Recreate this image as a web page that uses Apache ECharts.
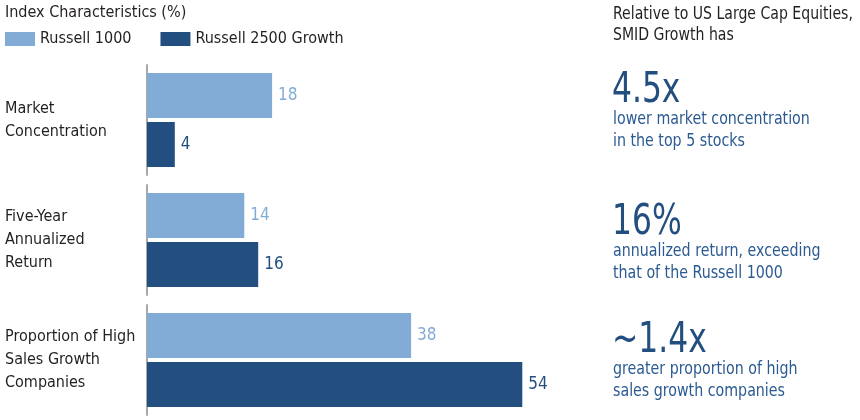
<!DOCTYPE html>
<html><head><meta charset="utf-8">
<script src="https://cdn.jsdelivr.net/npm/echarts@6/dist/echarts.min.js"></script>
<style>html,body{margin:0;padding:0;background:#fff}#c{width:860px;height:420px}</style>
</head><body><div id="c"></div>
<script>
const categories = ['Market\nConcentration', 'Five-Year\nAnnualized\nReturn', 'Proportion of High\nSales Growth\nCompanies'];
const seriesNames = ['Russell 1000', 'Russell 2500 Growth'];
const russell1000 = [18, 14, 38];
const russell2500Growth = [4, 16, 54];
const statValues = ['4.5x', '16%', '~1.4x'];
const statNotes = ['lower market concentration\nin the top 5 stocks', 'annualized return, exceeding\nthat of the Russell 1000', 'greater proportion of high\nsales growth companies'];
const chartTitle = 'Index Characteristics (%)';
const sideTitle = 'Relative to US Large Cap Equities,\nSMID Growth has';

const FONT = "'DejaVu Sans Condensed', 'Liberation Sans Narrow', 'Roboto', sans-serif";
const LIGHT = '#82ACD6';
const DARK = '#234F80';
const chart = echarts.init(document.getElementById('c'));

const grids = [], xAxes = [], yAxes = [], series = [];
categories.forEach((cat, i) => {
  grids.push({left: 147, width: 417, top: 65 + i * 120, height: 110});
  xAxes.push({type: 'value', gridIndex: i, min: 0, max: 60, show: false});
  yAxes.push({type: 'category', gridIndex: i, data: [cat], inverse: true,
    axisLine: {show: true, lineStyle: {color: '#A8A8A8', width: 2}},
    axisTick: {show: false},
    axisLabel: {align: 'left', margin: 142, fontFamily: FONT, fontSize: 16, lineHeight: 23, color: '#231F20'}});
  [[seriesNames[0], russell1000[i], LIGHT], [seriesNames[1], russell2500Growth[i], DARK]].forEach(([name, v, col]) => {
    series.push({type: 'bar', name, xAxisIndex: i, yAxisIndex: i, data: [v],
      barWidth: 45, barGap: '9%', itemStyle: {color: col},
      label: {show: true, position: 'right', distance: 6, color: col, fontFamily: FONT, fontSize: 17},
      silent: true, animation: false});
  });
});

const graphics = [{type: 'text', x: 613, y: 4, scaleX: 0.92, style: {x: 0, y: 0, text: sideTitle, font: '17px ' + FONT, fill: '#231F20', lineHeight: 21}}];
const statTops = [70, 202, 320];
statValues.forEach((s, i) => {
  graphics.push({type: 'text', x: 612, y: statTops[i], scaleX: 0.83, style: {x: 0, y: 0, text: s, font: '42px ' + FONT, fill: DARK}});
  graphics.push({type: 'text', x: 613, y: statTops[i] + 39, scaleX: 0.93, style: {x: 0, y: 0, text: statNotes[i], font: '17px ' + FONT, fill: '#2B5A91', lineHeight: 22}});
});

chart.setOption({
  animation: false,
  title: {text: chartTitle, left: 5, top: 5, padding: 0, textStyle: {fontFamily: FONT, fontSize: 16, fontWeight: 'normal', color: '#231F20'}},
  legend: {data: seriesNames, left: 5, top: 31, padding: 0, itemWidth: 30, itemHeight: 14, itemGap: 29, icon: 'rect',
    textStyle: {fontFamily: FONT, fontSize: 16, color: '#231F20'}},
  grid: grids, xAxis: xAxes, yAxis: yAxes, series, graphic: graphics
});
</script></body></html>
